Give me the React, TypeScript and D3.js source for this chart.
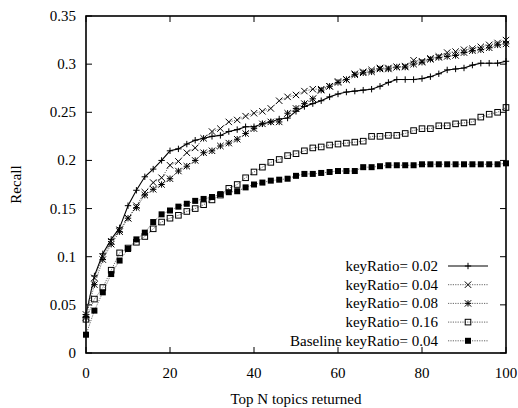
import { useEffect, useRef } from 'react';
import * as d3 from 'd3';

// top N values (0, 2, ..., 100)
const topN = d3.range(0, 101, 2);

const ratio002 = [
  0.040, 0.080, 0.103, 0.118, 0.130, 0.153, 0.169, 0.183, 0.191, 0.200,
  0.210, 0.212, 0.217, 0.221, 0.223, 0.225, 0.226, 0.230, 0.232, 0.235,
  0.235, 0.238, 0.240, 0.243, 0.244, 0.251, 0.256, 0.259, 0.262, 0.266,
  0.269, 0.271, 0.272, 0.273, 0.274, 0.277, 0.281, 0.284, 0.284, 0.284,
  0.285, 0.287, 0.290, 0.294, 0.295, 0.296, 0.299, 0.301, 0.301, 0.301,
  0.303,
];
const ratio004 = [
  0.040, 0.078, 0.100, 0.116, 0.128, 0.140, 0.153, 0.167, 0.177, 0.182,
  0.195, 0.199, 0.208, 0.213, 0.223, 0.230, 0.233, 0.240, 0.242, 0.246,
  0.249, 0.251, 0.254, 0.262, 0.266, 0.268, 0.272, 0.274, 0.274, 0.277,
  0.282, 0.284, 0.290, 0.292, 0.294, 0.296, 0.296, 0.297, 0.298, 0.304,
  0.303, 0.306, 0.308, 0.312, 0.313, 0.315, 0.316, 0.318, 0.320, 0.322,
  0.325,
];
const ratio008 = [
  0.037, 0.071, 0.097, 0.113, 0.126, 0.140, 0.151, 0.164, 0.170, 0.175,
  0.181, 0.189, 0.194, 0.200, 0.208, 0.210, 0.215, 0.218, 0.222, 0.228,
  0.233, 0.238, 0.240, 0.240, 0.249, 0.254, 0.259, 0.264, 0.273, 0.277,
  0.281, 0.284, 0.289, 0.291, 0.292, 0.295, 0.295, 0.297, 0.297, 0.300,
  0.302, 0.305, 0.307, 0.308, 0.309, 0.312, 0.314, 0.315, 0.317, 0.320,
  0.321,
];
const ratio016 = [
  0.035, 0.056, 0.068, 0.086, 0.104, 0.109, 0.115, 0.121, 0.129, 0.136,
  0.140, 0.143, 0.147, 0.150, 0.154, 0.159, 0.164, 0.171, 0.175, 0.182,
  0.188, 0.193, 0.198, 0.201, 0.205, 0.207, 0.210, 0.213, 0.214, 0.216,
  0.217, 0.218, 0.219, 0.220, 0.225, 0.225, 0.226, 0.226, 0.228, 0.231,
  0.233, 0.233, 0.236, 0.236, 0.238, 0.239, 0.240, 0.245, 0.248, 0.250,
  0.255,
];
const baseline004 = [
  0.019, 0.044, 0.063, 0.082, 0.096, 0.108, 0.118, 0.125, 0.136, 0.144,
  0.148, 0.152, 0.155, 0.158, 0.160, 0.162, 0.165, 0.167, 0.168, 0.172,
  0.175, 0.177, 0.179, 0.180, 0.181, 0.184, 0.186, 0.186, 0.187, 0.188,
  0.189, 0.189, 0.189, 0.193, 0.193, 0.194, 0.195, 0.195, 0.195, 0.195,
  0.196, 0.196, 0.196, 0.196, 0.196, 0.196, 0.196, 0.196, 0.196, 0.196,
  0.197,
];

const seriesNames = [
  'keyRatio= 0.02',
  'keyRatio= 0.04',
  'keyRatio= 0.08',
  'keyRatio= 0.16',
  'Baseline keyRatio= 0.04',
];
const seriesValues = [ratio002, ratio004, ratio008, ratio016, baseline004];
const markerKinds = ['plus', 'cross', 'star', 'openSquare', 'filledSquare'];

const xTicks = [0, 20, 40, 60, 80, 100];
const yTicks = [0, 0.05, 0.1, 0.15, 0.2, 0.25, 0.3, 0.35];

const FONT = '"Liberation Serif", "Times New Roman", serif';

const drawMarker = (g: any, kind: string, x: number, y: number) => {
  const s = 3.2;
  if (kind === 'plus' || kind === 'star') {
    g.append('path')
      .attr('d', `M${x - s},${y}H${x + s}M${x},${y - s}V${y + s}`)
      .attr('stroke', '#000').attr('stroke-width', 1).attr('fill', 'none');
  }
  if (kind === 'cross' || kind === 'star') {
    g.append('path')
      .attr('d', `M${x - s},${y - s}L${x + s},${y + s}M${x - s},${y + s}L${x + s},${y - s}`)
      .attr('stroke', '#000').attr('stroke-width', 1).attr('fill', 'none');
  }
  if (kind === 'openSquare') {
    g.append('rect')
      .attr('x', x - 2.8).attr('y', y - 2.8).attr('width', 5.6).attr('height', 5.6)
      .attr('fill', 'none').attr('stroke', '#000').attr('stroke-width', 1);
  }
  if (kind === 'filledSquare') {
    g.append('rect')
      .attr('x', x - 3).attr('y', y - 3).attr('width', 6).attr('height', 6)
      .attr('fill', '#000');
  }
};

const RecallChart = () => {
  const svgRef = useRef<SVGSVGElement>(null);

  useEffect(() => {
    drawChart();
  }, []);

  const drawChart = () => {
    const width = 518;
    const height = 408;
    const left = 86, right = 506, top = 16, bottom = 353;

    const svg = d3.select(svgRef.current);
    svg.selectAll('*').remove();

    const x = d3.scaleLinear().domain([0, 100]).range([left, right]);
    const y = d3.scaleLinear().domain([0, 0.35]).range([bottom, top]);

    // ticks (inside, mirrored)
    const ticks = svg.append('g').attr('stroke', '#000').attr('stroke-width', 1);
    xTicks.forEach(t => {
      ticks.append('line').attr('x1', x(t)).attr('x2', x(t)).attr('y1', bottom).attr('y2', bottom - 6);
      ticks.append('line').attr('x1', x(t)).attr('x2', x(t)).attr('y1', top).attr('y2', top + 6);
    });
    yTicks.forEach(t => {
      ticks.append('line').attr('x1', left).attr('x2', left + 6).attr('y1', y(t)).attr('y2', y(t));
      ticks.append('line').attr('x1', right).attr('x2', right - 6).attr('y1', y(t)).attr('y2', y(t));
    });

    svg.append('g')
      .selectAll('text')
      .data(xTicks)
      .join('text')
        .attr('x', d => x(d))
        .attr('y', bottom + 25)
        .attr('text-anchor', 'middle')
        .style('font-family', FONT)
        .style('font-size', '15px')
        .text(d => String(d));

    svg.append('g')
      .selectAll('text')
      .data(yTicks)
      .join('text')
        .attr('x', left - 10)
        .attr('y', d => y(d) + 5)
        .attr('text-anchor', 'end')
        .style('font-family', FONT)
        .style('font-size', '15px')
        .text(d => String(+d.toFixed(2)));

    // series
    const line = d3.line<number>()
      .x((_, i) => x(topN[i]))
      .y(d => y(d));

    seriesValues.forEach((vals, si) => {
      const g = svg.append('g');
      g.append('path')
        .attr('d', line(vals))
        .attr('fill', 'none')
        .attr('stroke', si === 0 ? '#000' : '#555')
        .attr('stroke-width', si === 0 ? 1.1 : 0.9)
        .attr('stroke-dasharray', si === 0 ? null : '1.2,1.2');
      vals.forEach((v, i) => drawMarker(g, markerKinds[si], x(topN[i]), y(v)));
    });

    // border
    svg.append('rect')
      .attr('x', left).attr('y', top)
      .attr('width', right - left).attr('height', bottom - top)
      .attr('fill', 'none').attr('stroke', '#000').attr('stroke-width', 1.6);

    // legend
    const legend = svg.append('g');
    seriesNames.forEach((name, i) => {
      const ly = 266 + i * 18.7;
      legend.append('text')
        .attr('x', 438).attr('y', ly + 5)
        .attr('text-anchor', 'end')
        .style('font-family', FONT)
        .style('font-size', '15px')
        .text(name);
      legend.append('line')
        .attr('x1', 448).attr('x2', 488).attr('y1', ly).attr('y2', ly)
        .attr('stroke', i === 0 ? '#000' : '#555')
        .attr('stroke-width', i === 0 ? 1.1 : 0.9)
        .attr('stroke-dasharray', i === 0 ? null : '1.2,1.2');
      drawMarker(legend, markerKinds[i], 468, ly);
    });

    // axis titles
    svg.append('text')
      .attr('x', (left + right) / 2).attr('y', 404)
      .attr('text-anchor', 'middle')
      .style('font-family', FONT)
      .style('font-size', '15px')
      .text('Top N topics returned');

    svg.append('text')
      .attr('transform', `translate(21,${(top + bottom) / 2}) rotate(-90)`)
      .attr('text-anchor', 'middle')
      .style('font-family', FONT)
      .style('font-size', '15px')
      .text('Recall');

    svg.attr('width', width).attr('height', height);
  };

  return (
    <svg
      ref={svgRef}
      width={518}
      height={408}
      style={{ position: 'absolute', left: 0, top: 0, background: '#fff' }}
    />
  );
};

export default function App() {
  return <RecallChart />;
}
